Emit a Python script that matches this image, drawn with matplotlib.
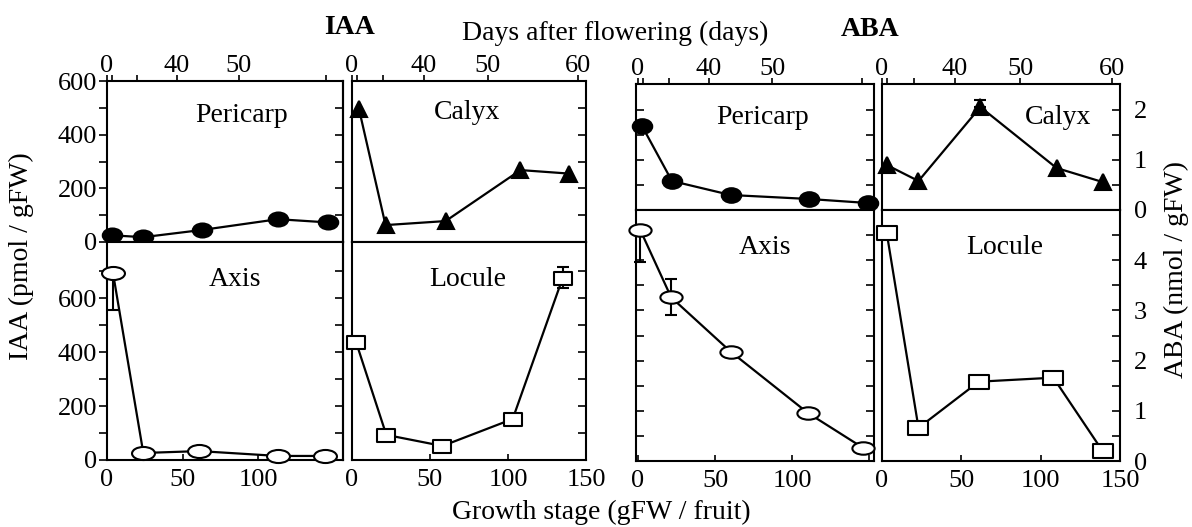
import matplotlib
matplotlib.use('Agg')
import matplotlib.pyplot as plt
import numpy as np
from matplotlib.path import Path
from matplotlib.transforms import Affine2D
from matplotlib.markers import MarkerStyle

plt.rcParams['font.family'] = ['Liberation Serif', 'DejaVu Serif']

# ---------------- data ----------------
# IAA (pmol / gFW) vs growth stage (gFW / fruit)
iaa_pericarp_x = [3, 24, 63, 113, 146]
iaa_pericarp_y = [25, 18, 45, 85, 73]
iaa_axis_x = [4, 24, 61, 113, 144]
iaa_axis_y = [692, 26, 33, 15, 15]
iaa_axis_err_low = [135, 0, 0, 0, 0]
iaa_axis_err_high = [0, 0, 0, 0, 0]
iaa_calyx_x = [4.5, 21.5, 60, 108, 139]
iaa_calyx_y = [495, 63, 78, 268, 255]
iaa_locule_x = [2.6, 22, 58, 103, 135]
iaa_locule_y = [437, 93, 52, 152, 674]
iaa_locule_err_low = [0, 0, 0, 0, 38]
iaa_locule_err_high = [0, 0, 0, 0, 42]

# ABA (nmol / gFW)
aba_pericarp_x = [2.6, 22, 60, 111, 149]
aba_pericarp_y = [1.68, 0.58, 0.30, 0.22, 0.14]
aba_axis_x = [1.5, 21.5, 60, 110, 146]
aba_axis_y = [4.6, 3.26, 2.18, 0.96, 0.26]
aba_axis_err_low = [0.64, 0.36, 0, 0, 0]
aba_axis_err_high = [0, 0.36, 0, 0, 0]
aba_calyx_x = [3, 23, 62, 110, 139]
aba_calyx_y = [0.9, 0.58, 2.06, 0.84, 0.56]
aba_calyx_err_low = [0, 0, 0, 0, 0]
aba_calyx_err_high = [0, 0, 0.15, 0, 0]
aba_locule_x = [3, 23, 61, 108, 139]
aba_locule_y = [4.54, 0.66, 1.58, 1.66, 0.2]

# days-after-flowering ticks (positions on growth-stage scale)
days_pos = [0, 3, 20, 46, 87, 145]
days_labels_full = ['0', '', '', '40', '50', '60']
days_labels_short = ['0', '', '', '40', '50', '']

gfw_ticks = [0, 50, 100, 150]

# ---------------- helpers ----------------
W, H = 1192, 527
fig = plt.figure(figsize=(W / 100, H / 100), dpi=100)

def box(x0, y0, x1, y1):
    return [x0 / W, 1 - y1 / H, (x1 - x0) / W, (y1 - y0) / H]

def ellipse(ratio):
    return MarkerStyle(Path.unit_circle().transformed(Affine2D().scale(1, ratio)))

def rect(ratio):
    v = [(-1, -ratio), (1, -ratio), (1, ratio), (-1, ratio), (-1, -ratio)]
    return MarkerStyle(Path(v, closed=True))

LW = 1.6
TFS = 19

def series(ax, x, y, marker, ms, fc, elo=None, ehi=None):
    if elo is not None:
        idx = [i for i in range(len(x)) if elo[i] > 0 or ehi[i] > 0]
        for i in idx:
            ax.errorbar([x[i]], [y[i]], yerr=[[elo[i]], [ehi[i]]], fmt='none',
                        ecolor='black', elinewidth=1.5, capsize=4, capthick=1.5,
                        zorder=2, clip_on=False)
    ax.plot(x, y, color='black', lw=LW, marker=marker, ms=ms, mfc=fc,
            mec='black', mew=1.5, clip_on=False, zorder=3)

def style(ax):
    for s in ax.spines.values():
        s.set_linewidth(1.5)

def top_row(ax, xlim, ylim, labels):
    style(ax)
    ax.set_xlim(*xlim)
    ax.set_ylim(*ylim)
    ax.xaxis.tick_top()
    ax.set_xticks(days_pos)
    ax.set_xticklabels(labels, fontsize=TFS)
    ax.tick_params(axis='x', direction='out', length=4, width=1.2, pad=-1,
                   top=True, bottom=False, labeltop=True, labelbottom=False)

def bottom_row(ax, xlim, ylim, labels):
    style(ax)
    ax.set_xlim(*xlim)
    ax.set_ylim(*ylim)
    ax.set_xticks(gfw_ticks)
    ax.set_xticklabels(labels, fontsize=TFS)
    ax.tick_params(axis='x', direction='in', length=4, width=1.2, pad=6.5,
                   top=False, bottom=True)

# ---------------- IAA block ----------------
iaa_top = np.arange(0, 601, 100)
iaa_top_lab = ['0', '', '200', '', '400', '', '600']
iaa_bot = np.arange(0, 701, 100)
iaa_bot_lab = ['0', '', '200', '', '400', '', '600', '']

a1 = fig.add_axes(box(107, 81, 343, 242))
top_row(a1, (0, 156), (0, 600), days_labels_short)
a1.set_yticks(iaa_top)
a1.set_yticklabels(iaa_top_lab, fontsize=TFS)
a1.tick_params(axis='y', left=True, right=False, length=6, width=1.2, direction='out', pad=1)
series(a1, iaa_pericarp_x, iaa_pericarp_y, ellipse(0.72), 14, 'black')

a2 = fig.add_axes(box(107, 242, 343, 460))
bottom_row(a2, (0, 156), (0, 808), ['0', '50', '100', ''])
a2.set_yticks(iaa_bot)
a2.set_yticklabels(iaa_bot_lab, fontsize=TFS)
a2.tick_params(axis='y', left=True, right=False, length=6, width=1.2, direction='out', pad=1)
series(a2, iaa_axis_x, iaa_axis_y, ellipse(0.57), 16.5, 'white',
       iaa_axis_err_low, iaa_axis_err_high)

for ax in (a1, a2):
    # inward ticks on right side
    ax2 = ax.secondary_yaxis('right')
    ax2.set_yticks(ax.get_yticks())
    ax2.set_yticklabels([])
    ax2.tick_params(direction='in', length=6, width=1.2)
    ax2.spines['right'].set_linewidth(1.5)

a3 = fig.add_axes(box(352, 81, 586, 242))
top_row(a3, (0, 150), (0, 600), days_labels_full)
a3.set_yticks(iaa_top)
a3.tick_params(axis='y', left=False, right=True, labelleft=False, direction='in', length=6, width=1.2)
series(a3, iaa_calyx_x, iaa_calyx_y, '^', 11, 'black')

a4 = fig.add_axes(box(352, 242, 586, 460))
bottom_row(a4, (0, 150), (0, 808), ['0', '50', '100', '150'])
a4.set_yticks(iaa_bot)
a4.tick_params(axis='y', left=False, right=True, labelleft=False, direction='in', length=6, width=1.2)
series(a4, iaa_locule_x, iaa_locule_y, rect(0.72), 13, 'white',
       iaa_locule_err_low, iaa_locule_err_high)

# ---------------- ABA block ----------------
aba_top = np.arange(0, 2.4, 0.5)
aba_top_lab = ['0', '', '1', '', '2']
aba_bot = np.arange(0, 4.9, 0.5)
aba_bot_lab = ['0', '', '1', '', '2', '', '3', '', '4', '']

b1 = fig.add_axes(box(636, 84, 874, 210))
top_row(b1, (-1.3, 153), (0, 2.52), days_labels_short)
b1.set_yticks(aba_top)
b1.tick_params(axis='y', left=True, right=True, labelleft=False, direction='in', length=6, width=1.2)
series(b1, aba_pericarp_x, aba_pericarp_y, ellipse(0.75), 14, 'black')

b2 = fig.add_axes(box(636, 210, 874, 461))
bottom_row(b2, (-1.3, 153), (0, 5.0), ['0', '50', '100', ''])
b2.set_yticks(aba_bot)
b2.tick_params(axis='y', left=True, right=True, labelleft=False, direction='in', length=6, width=1.2)
series(b2, aba_axis_x, aba_axis_y, ellipse(0.56), 16, 'white',
       aba_axis_err_low, aba_axis_err_high)

b3 = fig.add_axes(box(882, 84, 1120, 210))
top_row(b3, (0, 150), (0, 2.52), days_labels_full)
b3.set_yticks(aba_top)
b3.set_yticklabels(aba_top_lab, fontsize=TFS)
b3.tick_params(axis='y', left=False, right=True, labelleft=False, labelright=True,
               direction='in', length=6, width=1.2, pad=10)
series(b3, aba_calyx_x, aba_calyx_y, '^', 11, 'black',
       aba_calyx_err_low, aba_calyx_err_high)

b4 = fig.add_axes(box(882, 210, 1120, 461))
bottom_row(b4, (0, 150), (0, 5.0), ['0', '50', '100', '150'])
b4.set_yticks(aba_bot)
b4.set_yticklabels(aba_bot_lab, fontsize=TFS)
b4.tick_params(axis='y', left=False, right=True, labelleft=False, labelright=True,
               direction='in', length=6, width=1.2, pad=10)
series(b4, aba_locule_x, aba_locule_y, rect(0.7), 14, 'white')
# keep the right-hand "0" clear of the "150" below it
b4.get_yticklabels()[0].set_verticalalignment('center_baseline')

# ---------------- texts ----------------
def ftext(x, y, s, **kw):
    fig.text(x / W, 1 - y / H, s, ha='center', va='center', **kw)

LFS = 20
ftext(242, 115, 'Pericarp', fontsize=LFS)
ftext(235, 280, 'Axis', fontsize=LFS)
ftext(467, 113, 'Calyx', fontsize=LFS)
ftext(468, 280, 'Locule', fontsize=LFS)
ftext(763, 117, 'Pericarp', fontsize=LFS)
ftext(765, 247, 'Axis', fontsize=LFS)
ftext(1058, 117, 'Calyx', fontsize=LFS)
ftext(1005, 247, 'Locule', fontsize=LFS)
ftext(350, 27, 'IAA', fontsize=LFS, fontweight='bold')
ftext(870, 29, 'ABA', fontsize=LFS, fontweight='bold')
ftext(615, 33, 'Days after flowering (days)', fontsize=LFS)
ftext(601, 512, 'Growth stage (gFW / fruit)', fontsize=LFS)
ftext(21, 256, 'IAA (pmol / gFW)', fontsize=LFS, rotation=90)
ftext(1176, 270, 'ABA (nmol / gFW)', fontsize=LFS, rotation=90)

fig.savefig('out.png', dpi=100)
